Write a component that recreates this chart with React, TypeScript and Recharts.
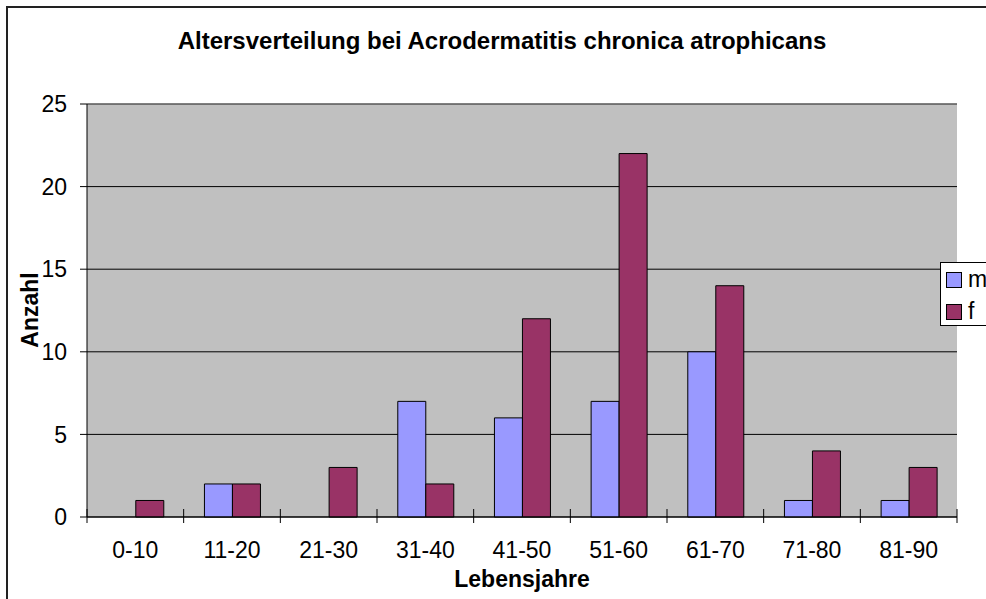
import React from 'react';
import { BarChart, Bar, XAxis, YAxis, CartesianGrid, ReferenceLine } from 'recharts';

const categories = ['0-10', '11-20', '21-30', '31-40', '41-50', '51-60', '61-70', '71-80', '81-90'];
const mValues = [0, 2, 0, 7, 6, 7, 10, 1, 1];
const fValues = [1, 2, 3, 2, 12, 22, 14, 4, 3];
const yTicks = [0, 5, 10, 15, 20, 25];
const seriesNames = ['m', 'f'];
const seriesColors = ['#9999FF', '#993366'];

const data = categories.map((age, i) => ({ age, m: mValues[i], f: fValues[i] }));

// plot box in page pixels
const PLOT_LEFT = 87;
const PLOT_RIGHT = 957;
const PLOT_TOP = 104;
const PLOT_BOTTOM = 517;
const BAND = (PLOT_RIGHT - PLOT_LEFT) / categories.length;

const FONT = '"Liberation Sans", Arial, sans-serif';

const AgeTick = (props: any) => {
  const { x, y, payload, index } = props;
  const half = BAND / 2;
  return (
    <g>
      <line x1={x - half} x2={x - half} y1={y - 8} y2={y + 6} stroke="#000" />
      {index === categories.length - 1 && (
        <line x1={x + half} x2={x + half} y1={y - 8} y2={y + 6} stroke="#000" />
      )}
      <text x={x} y={y + 41} textAnchor="middle" fontSize={23} fill="#000" fontFamily={FONT}>
        {payload.value}
      </text>
    </g>
  );
};

const App: React.FC = () => {
  return (
    <div
      style={{
        position: 'absolute',
        left: 0,
        top: 0,
        width: 986,
        height: 599,
        overflow: 'hidden',
        background: '#fff',
        fontFamily: FONT,
      }}
    >
      <BarChart
        width={986}
        height={599}
        data={data}
        margin={{ top: PLOT_TOP, right: 986 - PLOT_RIGHT, bottom: 599 - PLOT_BOTTOM - 30, left: PLOT_LEFT - 60 }}
        barCategoryGap="21.5%"
        barGap={0}
      >
        <CartesianGrid vertical={false} stroke="#000" fill="#C0C0C0" fillOpacity={1} />
        <XAxis
          dataKey="age"
          height={30}
          axisLine={{ stroke: '#000' }}
          tickLine={false}
          tickSize={0}
          tickMargin={0}
          interval={0}
          tick={<AgeTick />}
        />
        <YAxis
          domain={[0, 25]}
          ticks={yTicks}
          width={60}
          interval={0}
          axisLine={{ stroke: '#000' }}
          tickLine={{ stroke: '#000' }}
          tickSize={7}
          tickMargin={13}
          tick={{ fontSize: 23, fill: '#000', fontFamily: FONT }}
        />
        <YAxis
          yAxisId="edge"
          orientation="right"
          width={0}
          domain={[0, 25]}
          tick={false}
          tickLine={false}
          axisLine={{ stroke: '#808080' }}
        />
        <ReferenceLine y={25} stroke="#808080" ifOverflow="visible" />
        <Bar dataKey="m" fill={seriesColors[0]} stroke="#000" strokeWidth={1} isAnimationActive={false} />
        <Bar dataKey="f" fill={seriesColors[1]} stroke="#000" strokeWidth={1} isAnimationActive={false} />
      </BarChart>

      <svg
        width={986}
        height={599}
        style={{ position: 'absolute', left: 0, top: 0, pointerEvents: 'none' }}
        fontFamily={FONT}
      >
        <rect x={7} y={7} width={1000} height={1000} fill="none" stroke="#222" strokeWidth={2} />
        <text x={502} y={49} textAnchor="middle" fontSize={24} fontWeight="bold" fill="#000">
          Altersverteilung bei Acrodermatitis chronica atrophicans
        </text>
        <text x={522} y={587} textAnchor="middle" fontSize={23} fontWeight="bold" fill="#000">
          Lebensjahre
        </text>
        <text
          x={38}
          y={310}
          transform="rotate(-90, 38, 310)"
          textAnchor="middle"
          fontSize={23}
          fontWeight="bold"
          fill="#000"
        >
          Anzahl
        </text>
        <rect x={940.5} y={262.5} width={60} height={63} fill="#fff" stroke="#000" strokeWidth={1} />
        {seriesNames.map((name, i) => (
          <g key={name}>
            <rect
              x={946.5}
              y={272.5 + i * 32}
              width={15}
              height={15}
              fill={seriesColors[i]}
              stroke="#000"
              strokeWidth={1}
            />
            <text x={968} y={287 + i * 32} fontSize={23} fill="#000">
              {name}
            </text>
          </g>
        ))}
      </svg>
    </div>
  );
};

export default App;
